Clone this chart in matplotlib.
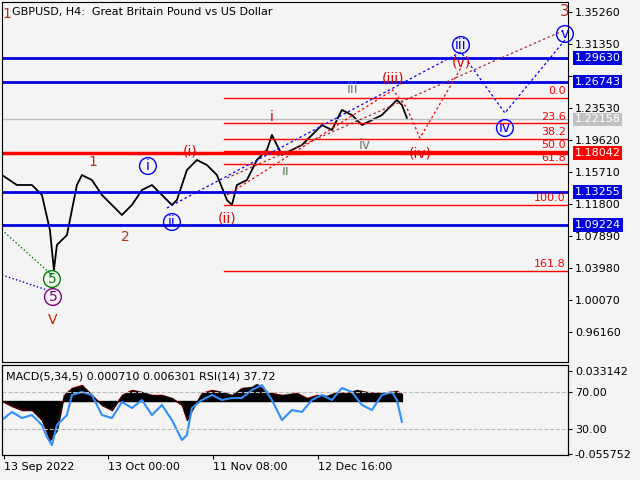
import matplotlib
matplotlib.use("Agg")
import matplotlib.pyplot as plt
import numpy as np

BG = "#f4f4f4"
# price path (bar index, close)
bar_idx = [0,15,30,40,48,52,55,60,65,70,75,80,90,100,110,120,130,140,150,160,170,175,185,195,205,215,225,230,235,245,255,265,270,280,290,300,310,320,330,340,350,360,370,380,390,395,400,405]
close = [1.1534,1.1412,1.1412,1.1290,1.0862,1.0373,1.0679,1.0740,1.0801,1.1107,1.1412,1.1534,1.1473,1.1290,1.1168,1.1046,1.1168,1.1351,1.1412,1.1290,1.1168,1.1229,1.1595,1.1718,1.1656,1.1534,1.1229,1.1168,1.1412,1.1473,1.1718,1.1840,1.2023,1.1779,1.1840,1.1901,1.2023,1.2145,1.2084,1.2329,1.2267,1.2145,1.2206,1.2267,1.2390,1.2451,1.2390,1.2231]
blue_levels = [1.29630, 1.26743, 1.13255, 1.09224]
red_level = 1.18042
gray_level = 1.22158
fib_names = ["0.0","23.6","38.2","50.0","61.8","100.0","161.8"]
fib_prices = [1.2475,1.2167,1.1976,1.1822,1.1667,1.1168,1.0360]
price_ticks = [1.35260,1.31350,1.27440,1.23530,1.19620,1.15710,1.11800,1.07890,1.03980,1.00070,0.96160]
macd_x = [0,10,20,30,40,48,55,62,70,80,90,100,110,120,130,140,150,160,170,180,185,190,200,210,220,230,240,250,255,265,280,295,305,315,325,335,345,355,365,380,395,400]
macd_v = [0,-0.0059,-0.0105,-0.0105,-0.0222,-0.0456,-0.0340,0.0070,0.0152,0.0187,0.0070,-0.0047,-0.0105,0.0070,0.0129,0.0105,0.0070,0.0070,0.0035,-0.0047,-0.0222,-0.0105,0.0094,0.0129,0.0105,0.0070,0.0152,0.0164,0.0199,0.0105,0.0070,0.0094,0.0035,0.0070,0.0059,0.0105,0.0094,0.0129,0.0105,0.0094,0.0117,0.0082]
rsi_x = [0,10,20,30,40,45,50,55,60,65,70,80,90,100,110,120,130,140,150,160,170,180,185,190,200,210,220,230,240,250,260,270,280,290,300,310,320,330,340,350,360,370,380,390,395,400]
rsi_v = [39.7,48.4,41.9,45.1,34.3,21.4,12.7,34.3,39.7,45.1,66.8,70,66.8,45.1,41.9,59.2,52.7,61.4,45.1,56,39.7,18.1,23.5,52.7,61.4,66.8,61.4,63.5,63.5,72.2,77.6,61.4,39.7,50.5,48.4,61.4,66.8,61.4,74.3,70,56,50.5,66.8,70,61.4,37.72]
date_labels = ["13 Sep 2022","13 Oct 00:00","11 Nov 08:00","12 Dec 16:00"]
date_pos = [2,106,211,316]

def P(y):  # pixel row -> price
    return 1.3526 - (y - 12) * 0.0012219

fig = plt.figure(figsize=(6.4,4.8), dpi=100, facecolor=BG)
ax = fig.add_axes([0.003, 1-362/480, 566/640, 360/480], facecolor=BG)
ax.set_xlim(0,566); ax.set_ylim(P(362), P(2))
ax.plot(bar_idx, close, color="black", lw=1.3)
for lv in blue_levels:
    ax.axhline(lv, color="#0000e0", lw=2)
ax.axhline(red_level, color="#ff0000", lw=2.5)
ax.axhline(gray_level, color="#bbbbbb", lw=1)
for n,p in zip(fib_names, fib_prices):
    ax.plot([222,566],[p,p], color="red", lw=1)
    ax.text(564, p+0.002, n, color="red", fontsize=8, ha="right", va="bottom")
ax.set_yticks(price_ticks)
ax.yaxis.tick_right()
ax.set_yticklabels([f"{t:.5f}" if t != 1.27440 else "" for t in price_ticks], fontsize=8)
ax.set_xticks([])
ax.tick_params(axis="y", length=3, pad=2)
for lv,fc in [(blue_levels[0],"#0000e0"),(blue_levels[1],"#0000e0"),(blue_levels[2],"#0000e0"),(blue_levels[3],"#0000e0"),(red_level,"#ff0000"),(gray_level,"#c0c0c0")]:
    ax.text(1.012, lv, f"{lv:.5f}", transform=ax.get_yaxis_transform(), color="white", fontsize=8,
            va="center", ha="left", bbox=dict(boxstyle="square,pad=0.15", fc=fc, ec="none"), clip_on=False)
ax.text(10, P(12), "GBPUSD, H4:  Great Britain Pound vs US Dollar", fontsize=8, va="center")
# wave lines
ax.plot([0,50],[P(230),P(275)], ls=":", color="green", lw=1)
ax.plot([0,45],[P(275),P(290)], ls=":", color="#0000cc", lw=1)
ax.plot([165,459,503,563],[P(208),P(52),P(113),P(40)], ls=(0,(2,2)), color="#0000ff", lw=0.9)
ax.plot([225,391,405,418,459],[P(195),P(90),P(108),P(138),P(68)], ls=(0,(2,2)), color="#ff0000", lw=0.9)
ax.plot([225,563],[P(178),P(30)], ls=(0,(2,2)), color="#a03030", lw=0.9)
def lab(x,y,s,c,circ=False,fs=10):
    ax.text(x,P(y),s,color=c,fontsize=fs,ha="center",va="center",
            bbox=dict(boxstyle="circle,pad=0.1",fc="none",ec=c) if circ else None)
lab(5,14,"1","#b03020"); lab(563,12,"3","#b03020",fs=11)
lab(91,162,"1","#b03020"); lab(123,237,"2","#b03020"); lab(51,320,"V","#d02000")
lab(50,279,"5","green",True); lab(51,297,"5","purple",True)
lab(146,166,"i","#0000ff",True); lab(170,222,"ii","#0000ff",True)
lab(188,152,"(i)","#e00000"); lab(225,218,"(ii)","#e00000")
lab(270,117,"i","#e00000"); lab(284,171,"ii","#608060"); lab(351,89,"iii","#708070"); lab(363,145,"iv","#708070")
lab(391,78,"(iii)","#e00000"); lab(418,154,"(iv)","#e00000"); lab(459,62,"(v)","#e00000")
lab(459,45,"iii","#0000ff",True); lab(503,128,"iv","#0000ff",True); lab(563,34,"v","#0000ff",True)

# indicator panel
ax2 = fig.add_axes([0.003, 1-455/480, 566/640, 90/480], facecolor=BG)
ax2.set_xlim(0,566)
ax2.set_ylim(-0.0632, 0.0422)
ax2.fill_between(macd_x, 0, macd_v, color="black")
ax2.plot(macd_x, macd_v, color="red", lw=0.6, ls=":")
ax2.set_xticks(date_pos); ax2.set_xticklabels(date_labels, fontsize=8, ha="left")
ax3 = ax2.twinx()
ax3.set_ylim(1.9, 99.2)
ax3.plot(rsi_x, rsi_v, color="#2f8fff", lw=1.5)
for lv in [70,30]:
    ax3.axhline(lv, color="#bbbbbb", ls="--", lw=0.8)
ax3.set_yticks([0.7*0+3.0+0.0, 30, 70, 92.5])
ax3.set_yticklabels(["-0.055752","30.00","70.00","0.033142"], fontsize=8)
ax2.set_yticks([])
ax2.tick_params(axis="x", length=3, pad=2)
ax3.tick_params(length=3, pad=2)
ax3.text(4, 92, "MACD(5,34,5) 0.000710 0.006301 RSI(14) 37.72", fontsize=8, va="top")
fig.savefig("out.png", dpi=100, facecolor=BG)
